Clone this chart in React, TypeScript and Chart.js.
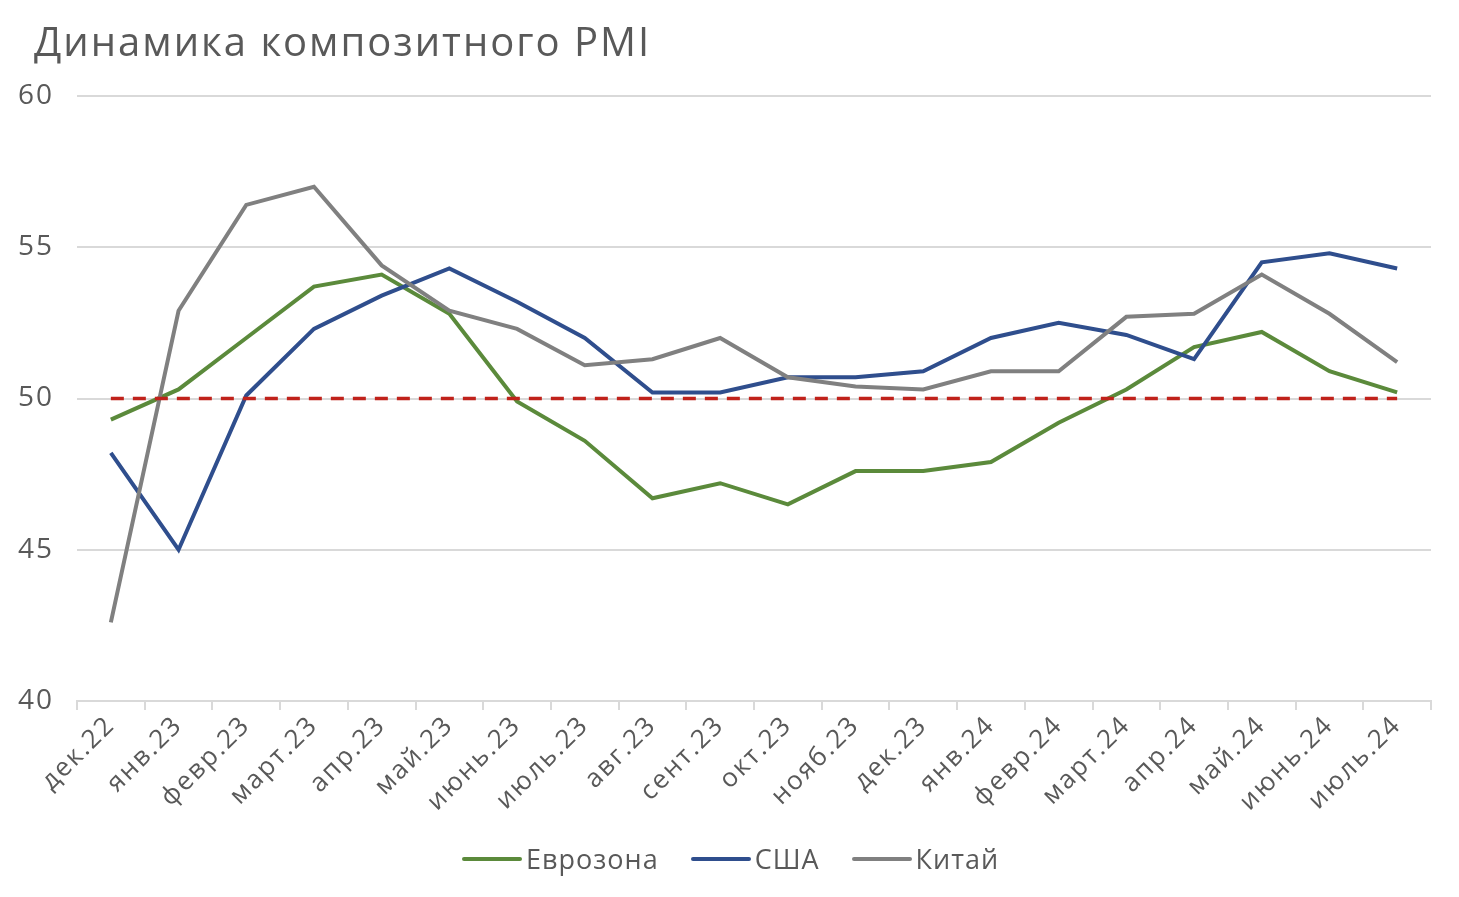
import React, { useEffect, useRef } from "react";
import { Chart, registerables } from "chart.js";

Chart.register(...registerables);

const categories = [
  "дек.22", "янв.23", "февр.23", "март.23", "апр.23", "май.23", "июнь.23", "июль.23",
  "авг.23", "сент.23", "окт.23", "нояб.23", "дек.23", "янв.24", "февр.24", "март.24",
  "апр.24", "май.24", "июнь.24", "июль.24",
];

const eurozone = [49.3, 50.3, 52.0, 53.7, 54.1, 52.8, 49.9, 48.6, 46.7, 47.2, 46.5, 47.6, 47.6, 47.9, 49.2, 50.3, 51.7, 52.2, 50.9, 50.2];
const usa = [48.2, 45.0, 50.1, 52.3, 53.4, 54.3, 53.2, 52.0, 50.2, 50.2, 50.7, 50.7, 50.9, 52.0, 52.5, 52.1, 51.3, 54.5, 54.8, 54.3];
const china = [42.6, 52.9, 56.4, 57.0, 54.4, 52.9, 52.3, 51.1, 51.3, 52.0, 50.7, 50.4, 50.3, 50.9, 50.9, 52.7, 52.8, 54.1, 52.8, 51.2];
const threshold = categories.map(() => 50);

const seriesNames = ["Еврозона", "США", "Китай"];
const seriesColors = ["#5b8a3b", "#2f4e8d", "#808080"];
const thresholdColor = "#c0221b";

const yTicks = [40, 45, 50, 55, 60];

const FONT = "'Open Sans', sans-serif";
const TEXT = "#595959";

const spacingPlugin = {
  id: "letterSpacing",
  beforeUpdate(chart: any) { chart.ctx.letterSpacing = "2px"; },
  beforeDraw(chart: any) { chart.ctx.letterSpacing = "2px"; },
};

export default function App() {
  const ref = useRef<HTMLCanvasElement | null>(null);

  useEffect(() => {
    document.body.style.margin = "0";
    const ctx = ref.current!.getContext("2d")!;
    const chart = new Chart(ctx, {
      type: "line",
      plugins: [spacingPlugin],
      data: {
        labels: categories,
        datasets: [
          { label: "50", data: threshold, borderColor: thresholdColor, backgroundColor: thresholdColor, borderWidth: 3.5, borderDash: [13, 9], pointRadius: 0, order: 0 },
          { label: seriesNames[0], data: eurozone, borderColor: seriesColors[0], backgroundColor: seriesColors[0], borderWidth: 4, pointRadius: 0, order: 3 },
          { label: seriesNames[1], data: usa, borderColor: seriesColors[1], backgroundColor: seriesColors[1], borderWidth: 4, pointRadius: 0, order: 2 },
          { label: seriesNames[2], data: china, borderColor: seriesColors[2], backgroundColor: seriesColors[2], borderWidth: 4, pointRadius: 0, order: 1 },
        ],
      },
      options: {
        animation: false,
        responsive: false,
        maintainAspectRatio: false,
        layout: { padding: { left: 0, right: 28, top: 96, bottom: 0 } },
        plugins: { legend: { display: false }, title: { display: false }, tooltip: { enabled: false } },
        scales: {
          x: {
            offset: true,
            grid: { offset: true, drawOnChartArea: false, drawTicks: true, tickLength: 9, color: "#d9d9d9", lineWidth: 2 },
            border: { display: true, color: "#d9d9d9", width: 2 },
            ticks: { color: TEXT, font: { family: FONT, size: 26 }, maxRotation: 45, minRotation: 45, autoSkip: false, padding: 0 },
            afterFit: (s: any) => { s.height = 196; },
          },
          y: {
            min: 40,
            max: 60,
            afterBuildTicks: (s: any) => { s.ticks = yTicks.map((v) => ({ value: v })); },
            grid: { drawTicks: false, color: "#d9d9d9", lineWidth: 2 },
            border: { display: false },
            ticks: { color: TEXT, font: { family: FONT, size: 28 }, padding: 23 },
            afterFit: (s: any) => { s.width = 77; },
          },
        },
      },
    });
    return () => chart.destroy();
  }, []);

  return (
    <div style={{ position: "absolute", left: 0, top: 0, width: 1459, height: 897, background: "#fff", fontFamily: FONT }}>
      <canvas ref={ref} width={1459} height={897} style={{ position: "absolute", left: 0, top: 0 }} />
      <div style={{ position: "absolute", left: 34, top: 13, fontSize: 40, color: TEXT, whiteSpace: "nowrap", letterSpacing: 2 }}>
        Динамика композитного PMI
      </div>
      <div style={{ position: "absolute", left: 462, top: 840, display: "flex", gap: 32, fontSize: 27, color: TEXT, letterSpacing: 1 }}>
        {seriesNames.map((n, i) => (
          <div key={n} style={{ display: "flex", alignItems: "center" }}>
            <span style={{ display: "inline-block", width: 60, height: 4, borderRadius: 2, background: seriesColors[i], marginRight: 4 }} />
            <span>{n}</span>
          </div>
        ))}
      </div>
    </div>
  );
}
